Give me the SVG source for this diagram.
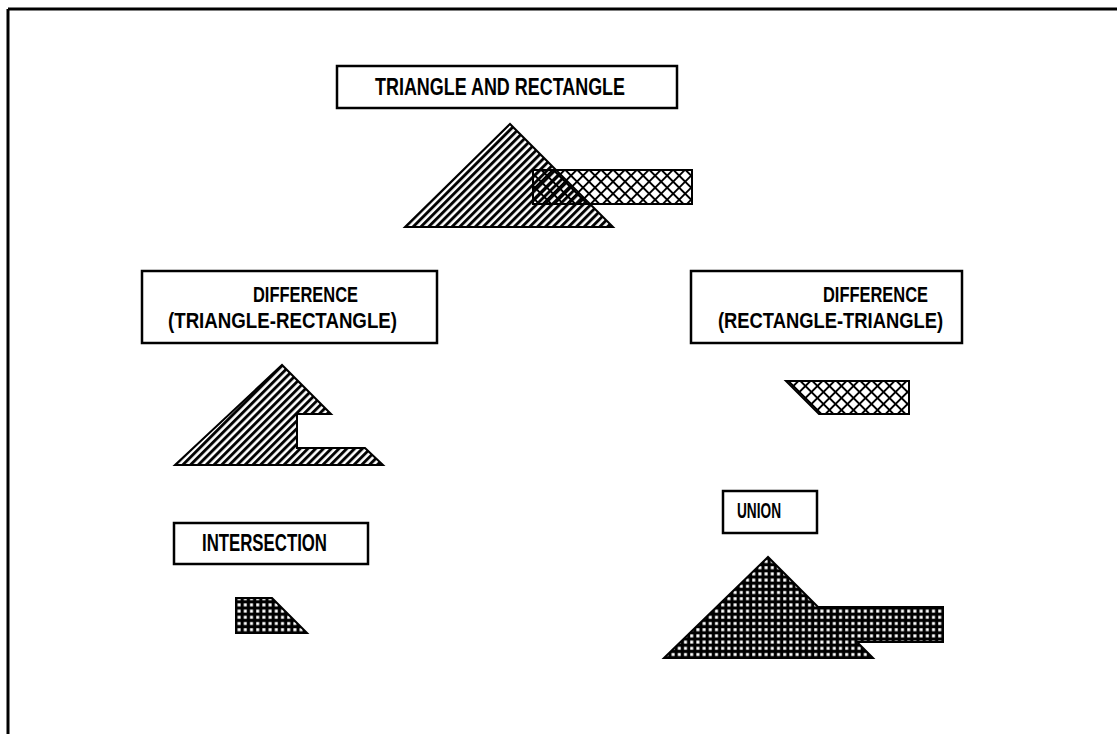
<svg xmlns="http://www.w3.org/2000/svg" width="1117" height="734" viewBox="0 0 1117 734">
<style>
.box{fill:#fff;stroke:#000;stroke-width:2.5}
.lbl{font-family:"Liberation Sans",Arial,sans-serif;font-weight:bold;fill:#000}
.shape{stroke:#000;stroke-width:2;stroke-linejoin:miter}
.frame{stroke:#000;stroke-width:3;fill:none}
</style>
<defs>
<pattern id="hatch" patternUnits="userSpaceOnUse" width="5.5" height="5.5" patternTransform="rotate(45)">
<line x1="1.5" y1="-1" x2="1.5" y2="7" stroke="#000" stroke-width="2.9"/>
</pattern>
<pattern id="cross" patternUnits="userSpaceOnUse" width="8.5" height="8.5" patternTransform="rotate(45)">
<line x1="0" y1="-1" x2="0" y2="10" stroke="#000" stroke-width="3.8"/>
<line x1="-1" y1="0" x2="10" y2="0" stroke="#000" stroke-width="3.8"/>
</pattern>
<pattern id="grid" patternUnits="userSpaceOnUse" width="6.2" height="6.2">
<rect x="0" y="0" width="6.2" height="6.2" fill="#000"/>
<rect x="2" y="2" width="3" height="3" fill="#fff"/>
</pattern>
</defs>
<rect width="1117" height="734" fill="#fff"/>
<g id="frame">
<path class="frame" d="M8,9 H1117 M8,9 V734"/>
</g>
<g id="title-node">
<rect class="box" x="337" y="66" width="340" height="42"/>
<text class="lbl" x="375" y="95" font-size="24" textLength="250" lengthAdjust="spacingAndGlyphs">TRIANGLE AND RECTANGLE</text>
</g>
<g id="triangle-and-rectangle">
<polygon class="shape" points="405,227 510,124 613,227" fill="url(#hatch)"/>
<rect class="shape" x="533" y="170" width="159" height="34" fill="url(#cross)"/>
</g>
<g id="diff1-node">
<rect class="box" x="142" y="271" width="295" height="72"/>
<text class="lbl" x="253" y="302" font-size="22" textLength="105" lengthAdjust="spacingAndGlyphs">DIFFERENCE</text>
<text class="lbl" x="168" y="328" font-size="22" textLength="229" lengthAdjust="spacingAndGlyphs">(TRIANGLE-RECTANGLE)</text>
</g>
<g id="diff1-shape">
<polygon class="shape" points="175,465 282,365 331,414 297,414 297,448 365,448 383,465" fill="url(#hatch)"/>
</g>
<g id="diff2-node">
<rect class="box" x="691" y="271" width="271" height="72"/>
<text class="lbl" x="823" y="302" font-size="22" textLength="105" lengthAdjust="spacingAndGlyphs">DIFFERENCE</text>
<text class="lbl" x="718" y="328" font-size="22" textLength="225" lengthAdjust="spacingAndGlyphs">(RECTANGLE-TRIANGLE)</text>
</g>
<g id="diff2-shape">
<polygon class="shape" points="786,381 909,381 909,414 819,414" fill="url(#cross)"/>
</g>
<g id="intersection-node">
<rect class="box" x="174" y="523" width="194" height="41"/>
<text class="lbl" x="202" y="551" font-size="23" textLength="125" lengthAdjust="spacingAndGlyphs">INTERSECTION</text>
</g>
<g id="intersection-shape">
<polygon class="shape" points="236,598 272,598 307,633 236,633" fill="url(#grid)"/>
</g>
<g id="union-node">
<rect class="box" x="723" y="491" width="94" height="42"/>
<text class="lbl" x="737" y="518" font-size="22" textLength="44" lengthAdjust="spacingAndGlyphs">UNION</text>
</g>
<g id="union-shape">
<polygon class="shape" points="664,658 768,557 818,607 943,607 943,642 857,642 873,658" fill="url(#grid)"/>
</g>
</svg>
